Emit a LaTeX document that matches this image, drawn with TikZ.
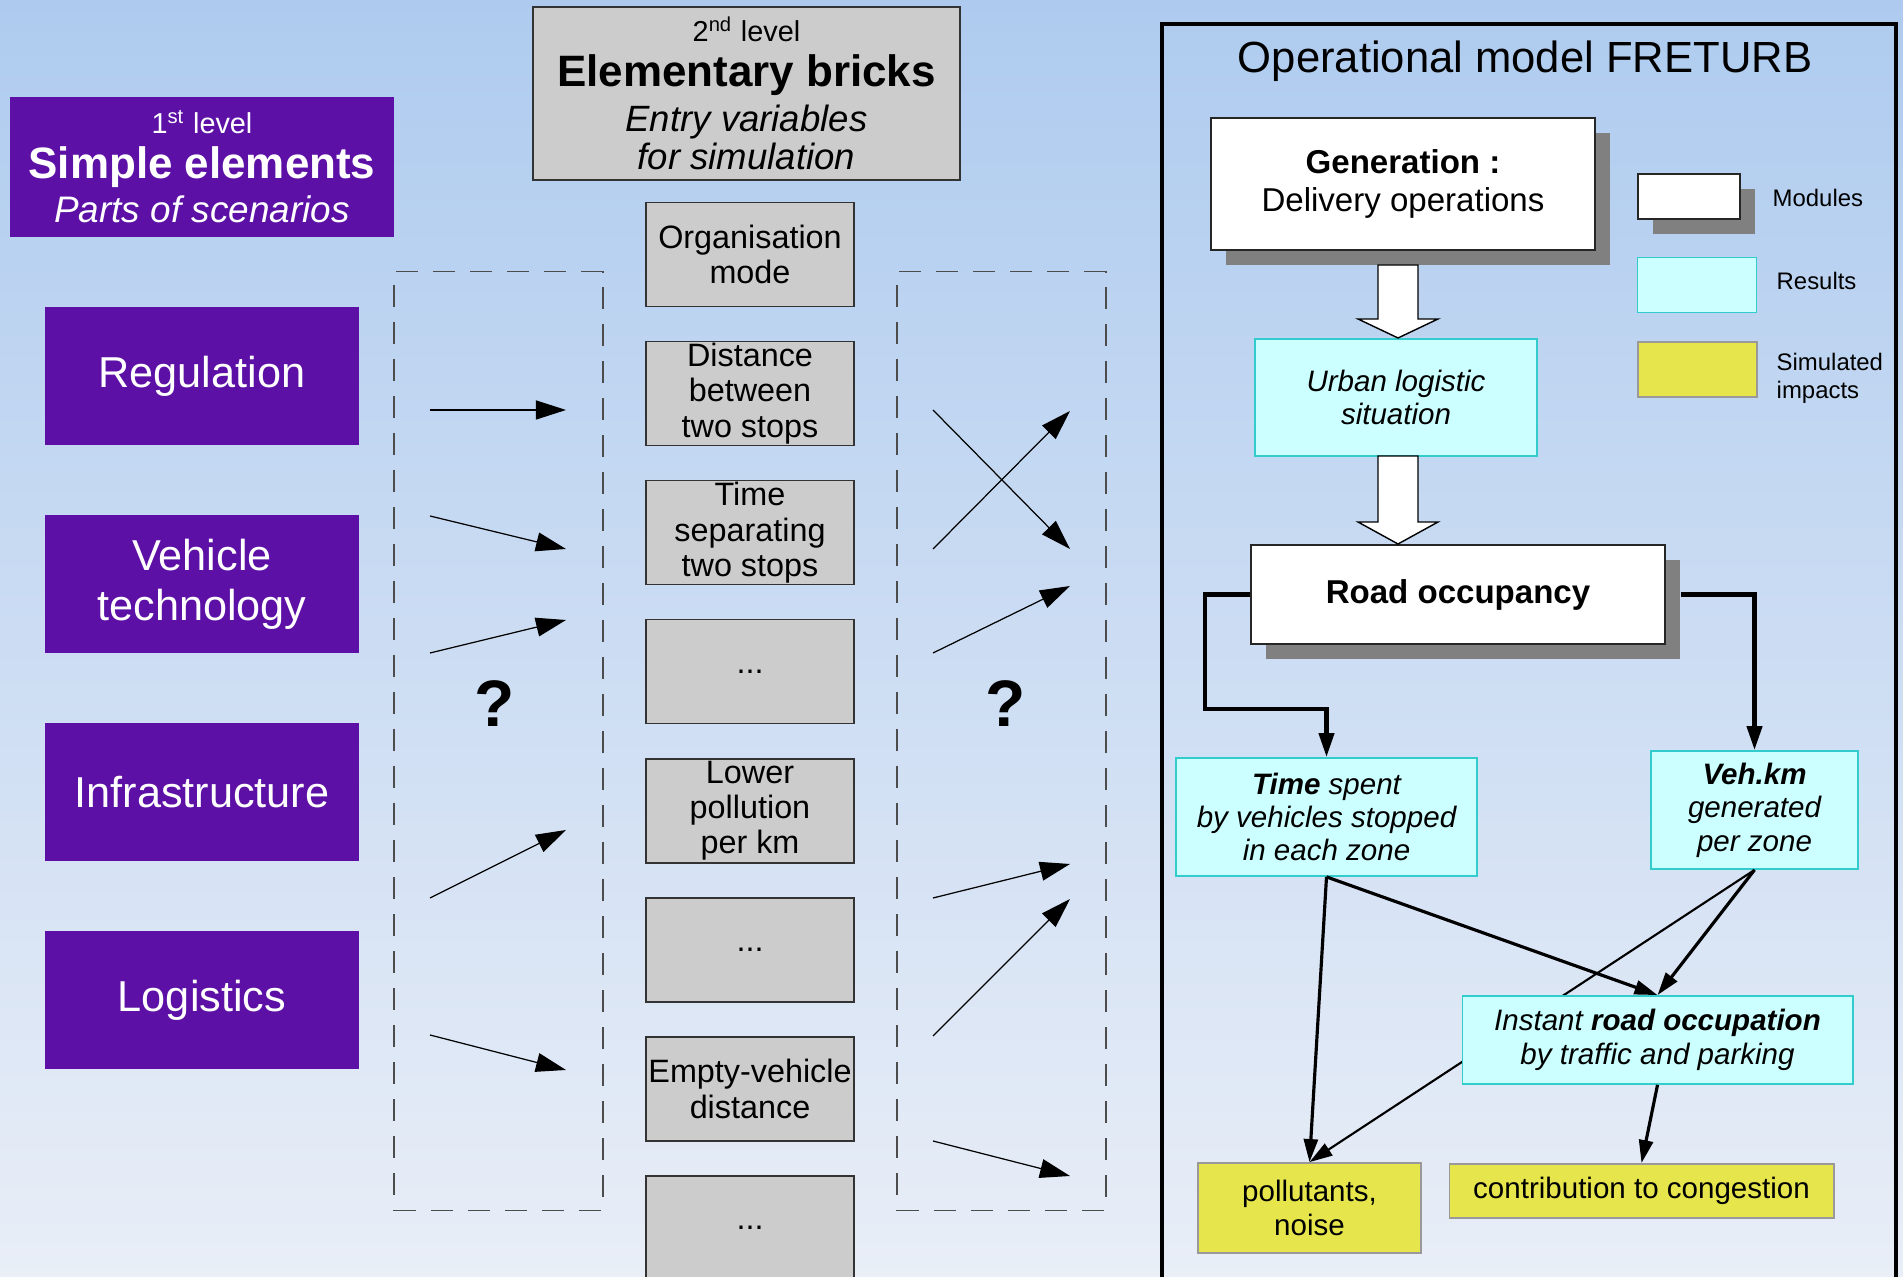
\documentclass[tikz,border=0pt]{standalone}
\usepackage{fontspec}
\setmainfont{Liberation Sans}
\usetikzlibrary{arrows.meta, positioning, calc, shadows}
\usepackage{xcolor}
\definecolor{frpurple}{HTML}{5C10A6}
\definecolor{frgrey}{HTML}{CCCCCC}
\definecolor{frcyan}{HTML}{CCFFFF}
\definecolor{frcyanline}{HTML}{33CCCC}
\definecolor{fryellow}{HTML}{E6E64C}
\definecolor{frshadow}{HTML}{808080}
\definecolor{frbgtop}{HTML}{AECBEF}
\definecolor{frbgbot}{HTML}{E9EEF7}

\begin{document}
\begin{tikzpicture}[
    x=0.01cm, y=-0.01cm,
    node distance=0.336cm,
    simple/.style={rectangle, fill=frpurple, text=white, minimum width=3.14cm,
                   minimum height=1.38cm, align=center, font=\fontsize{12.3}{14.2}\selectfont},
    brick/.style={rectangle, draw=black!80, fill=frgrey, minimum width=2.08cm,
                  minimum height=1.04cm, inner sep=0pt, align=center,
                  font=\fontsize{9.2}{10}\selectfont, line width=0.4pt},
    gapbox/.style={rectangle, draw=black!70, dash pattern=on 0.22cm off 0.15cm,
                   minimum width=2.09cm, minimum height=9.38cm, line width=0.4pt},
    module/.style={rectangle, draw=black!85, fill=white, line width=0.4pt,
                   drop shadow={opacity=1, fill=frshadow, shadow xshift=0.15cm, shadow yshift=-0.15cm}},
    result/.style={rectangle, draw=frcyanline, fill=frcyan, line width=0.5pt, align=center,
                   font=\itshape\fontsize{8.4}{9.5}\selectfont},
    impact/.style={rectangle, draw=black!40, fill=fryellow, line width=0.5pt, align=center,
                   font=\fontsize{8.4}{9.5}\selectfont},
    legend/.style={anchor=west, align=left, inner sep=0pt, font=\fontsize{6.8}{8}\selectfont},
    hint/.style={-{Triangle[length=3mm, width=1.9mm]}, line width=0.35pt},
    feed/.style={-{Triangle[length=2.4mm, width=1.5mm]}, line width=1.2pt},
    link/.style={-{Triangle[length=2.3mm, width=1.4mm]}, line width=0.9pt},
    hollow/.style={draw=black, fill=white, line width=0.4pt}
  ]
    \clip (0,0) rectangle (1903,1277);
    \shade[top color=frbgtop, bottom color=frbgbot] (0,0) rectangle (1903,1277);

    % first level: scenario elements
    \node[simple, minimum width=3.84cm, minimum height=1.40cm, font=\fontsize{12.5}{12.7}\selectfont]
      (lvlone) at (202,167)
      {{\fontsize{8.2}{9}\selectfont 1\textsuperscript{st} level}\\
       \textbf{Simple elements}\\
       {\itshape\fontsize{10.5}{12}\selectfont Parts of scenarios}};
    \node[simple] (regul) at (202,376) {Regulation};
    \node[simple, below=0.685cm of regul] (vehicle) {Vehicle\\technology};
    \node[simple, below=0.685cm of vehicle] (infra) {Infrastructure};
    \node[simple, below=0.685cm of infra] (logist) {Logistics};

    % second level: elementary bricks
    \node[brick, minimum width=4.27cm, minimum height=1.73cm, font=\fontsize{12.5}{12.8}\selectfont]
      (lvltwo) at (746.5,93.5)
      {{\fontsize{8.2}{9}\selectfont 2\textsuperscript{nd} level}\\
       \textbf{Elementary bricks}\\
       {\itshape\fontsize{10.4}{12}\selectfont Entry variables}\\[-2pt]
       {\itshape\fontsize{10.4}{12}\selectfont for simulation}};
    \node[brick] (orgmode) at (750,254.5) {Organisation\\mode};
    \node[brick, below=of orgmode] (stopdist) {Distance\\between\\two stops};
    \node[brick, below=of stopdist] (stoptime) {Time\\separating\\two stops};
    \node[brick, below=of stoptime] (moreA) {...};
    \node[brick, below=of moreA] (pollkm) {Lower\\pollution\\per km};
    \node[brick, below=of pollkm] (moreB) {...};
    \node[brick, below=of moreB] (emptydist) {Empty-vehicle\\distance};
    \node[brick, below=of emptydist] (moreC) {...};

    % unknown links on both sides of the bricks
    \node[gapbox] (leftgap) at (498.5,741) {};
    \node[gapbox] (rightgap) at (1001.5,741) {};
    \node[font=\bfseries\fontsize{18.7}{20}\selectfont] (qleft) at ($(leftgap.center)+(-4,-37)$) {?};
    \node[font=\bfseries\fontsize{18.7}{20}\selectfont] (qright) at ($(rightgap.center)+(4,-37)$) {?};
    \foreach \ya/\yb in {410/410, 516/549, 653/620, 898/830, 1035/1070}
      \draw[hint] (430,\ya) -- (566,\yb);
    \foreach \ya/\yb in {410/549, 549/411, 653/586, 898/864, 1036/899, 1141/1176}
      \draw[hint] (933,\ya) -- (1070,\yb);

    % operational model
    \draw[line width=1.2pt] (1162,1300) -- (1162,24) -- (1896,24) -- (1896,1300);
    \node[font=\fontsize{12.4}{14}\selectfont] (title) at (1525,61) {Operational model FRETURB};

    \node[module, minimum width=3.84cm, minimum height=1.32cm, align=center,
          font=\fontsize{9.4}{10.8}\selectfont]
      (gen) at (1403,184) {\textbf{Generation :}\\Delivery operations};
    \node[result, minimum width=2.82cm, minimum height=1.17cm] (urban) at (1396,397.5)
      {Urban logistic\\situation};
    \node[module, minimum width=4.14cm, minimum height=0.99cm, font=\bfseries\fontsize{9.4}{10.8}\selectfont]
      (road) at (1458,594.5) {Road occupancy};
    \foreach \top/\base/\tip in {265/319/338, 456/522/544}
      \draw[hollow] (1378,\top) -- (1418,\top) -- (1418,\base) -- (1438,\base)
        -- (1398,\tip) -- (1358,\base) -- (1378,\base) -- cycle;

    \node[result, minimum width=3.01cm, minimum height=1.18cm] (timezone) at (1326.5,817)
      {\textbf{Time} spent\\by vehicles stopped\\in each zone};
    \node[result, minimum width=2.07cm, minimum height=1.18cm] (vehkm) at (1754.5,810)
      {\textbf{Veh.km}\\generated\\per zone};
    \node[impact, minimum width=2.23cm, minimum height=0.90cm] (pollut) at (1309.5,1208)
      {pollutants,\\noise};
    \node[impact, minimum width=3.84cm, minimum height=0.54cm] (congest) at (1641.5,1191)
      {contribution to congestion};

    \coordinate (bendL) at (1205,709);
    \draw[feed] (road.west) -| (bendL) -| (timezone.north);
    \draw[feed] ($(road.east)+(15,0)$) -| (vehkm.north);

    % this one runs behind the occupation box
    \draw[-{Triangle[length=2.3mm, width=1.4mm]}, line width=0.6pt] (vehkm.south) -- (pollut.north);
    \node[result, minimum width=3.90cm, minimum height=0.88cm] (instant) at (1657.5,1040)
      {Instant \textbf{road occupation}\\by traffic and parking};

    \draw[link] (timezone.south) -- (pollut.north);
    \draw[link] (timezone.south) -- (instant.north);
    \draw[link] (vehkm.south) -- (instant.north);
    \draw[link] (instant.south) -- (congest.north);

    % legend
    \node[module, minimum width=1.02cm, minimum height=0.45cm] (legmod) at (1689,196.5) {};
    \node[result, minimum width=1.19cm, minimum height=0.55cm] (legres) at (1697,285) {};
    \node[impact, minimum width=1.19cm, minimum height=0.55cm] (legimp) at (1697.5,369.5) {};
    \node[legend] at (1772,198) {Modules};
    \node[legend] at (1776,281) {Results};
    \node[legend] at (1776,378) {Simulated\\impacts};
  \end{tikzpicture}
\end{document}
